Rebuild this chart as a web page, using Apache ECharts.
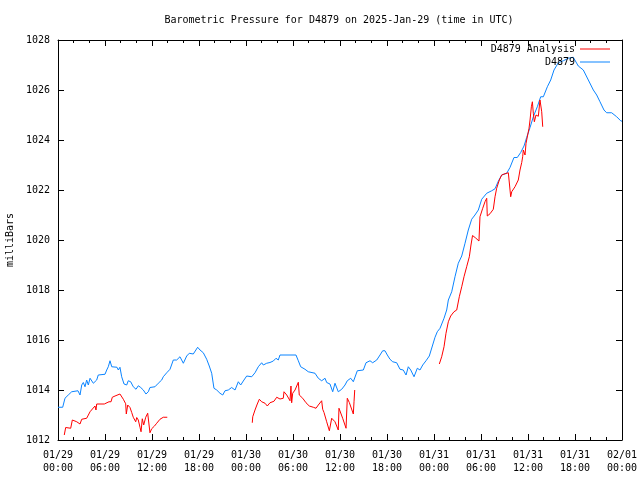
<!DOCTYPE html>
<html>
<head>
<meta charset="utf-8">
<script src="https://cdn.jsdelivr.net/npm/echarts@6/dist/echarts.min.js"></script>
<style>html,body{margin:0;padding:0;background:#fff}#c{width:640px;height:480px}</style>
</head>
<body>
<div id="c"></div>
<script>
// hours since 2025-01-29 00:00 UTC
var stationHours = [0.0,0.6,0.89,1.31,1.75,1.91,2.55,2.81,3.03,3.23,3.45,3.66,3.87,4.09,4.3,4.51,4.72,4.94,5.14,5.36,6.0,6.22,6.42,6.64,6.86,7.02,7.53,7.7,7.91,8.13,8.43,8.77,8.97,9.28,9.61,9.96,10.25,10.56,10.89,11.23,11.53,11.74,12.38,12.8,13.24,13.44,13.88,14.3,14.72,15.15,15.57,16.0,16.43,16.76,17.27,17.83,18.13,18.55,18.98,19.31,19.62,19.91,20.26,20.68,21.03,21.32,21.74,22.17,22.6,23.02,23.32,23.74,24.09,24.73,25.15,25.57,26.0,26.21,26.64,27.06,27.49,27.83,28.12,28.34,30.38,30.68,30.98,31.53,31.95,32.81,33.23,33.66,34.09,34.3,34.72,35.07,35.36,35.78,36.22,36.64,36.93,37.37,37.7,37.91,38.21,38.98,39.32,39.83,40.17,40.69,41.11,41.45,41.74,42.04,42.38,42.73,43.24,43.66,44.08,44.43,44.72,45.03,45.45,45.87,46.21,46.56,46.98,47.4,47.83,48.13,48.42,48.77,49.02,49.28,49.62,49.83,50.26,50.68,51.1,51.54,51.96,52.38,52.81,53.23,53.66,54.09,54.73,55.37,55.79,56.21,56.64,57.28,57.7,58.21,58.63,59.07,59.49,59.83,60.26,60.68,61.19,61.62,61.96,62.47,62.9,63.32,63.87,64.51,65.15,65.78,66.42,67.06,67.7,68.34,68.77,69.19,69.7,70.04,70.68,71.32,71.83,72.0];
var stationValues = [1013.31,1013.31,1013.67,1013.8,1013.93,1013.97,1013.97,1013.8,1014.2,1014.3,1014.13,1014.4,1014.2,1014.47,1014.53,1014.27,1014.33,1014.4,1014.6,1014.63,1014.63,1014.8,1014.93,1015.17,1014.93,1014.91,1014.91,1014.8,1014.91,1014.53,1014.24,1014.2,1014.37,1014.33,1014.13,1014.03,1014.17,1014.1,1014.0,1013.84,1013.93,1014.1,1014.13,1014.27,1014.4,1014.53,1014.69,1014.83,1015.2,1015.2,1015.33,1015.07,1015.36,1015.47,1015.44,1015.71,1015.6,1015.49,1015.23,1014.96,1014.67,1014.07,1014.0,1013.87,1013.8,1013.97,1014.0,1014.1,1014.0,1014.33,1014.2,1014.4,1014.56,1014.53,1014.69,1014.93,1015.09,1015.0,1015.07,1015.1,1015.16,1015.27,1015.2,1015.4,1015.4,1015.17,1014.93,1014.83,1014.73,1014.67,1014.47,1014.37,1014.47,1014.3,1014.24,1013.93,1014.27,1013.93,1014.03,1014.2,1014.37,1014.47,1014.33,1014.4,1014.77,1014.8,1015.09,1015.17,1015.09,1015.2,1015.4,1015.57,1015.57,1015.4,1015.23,1015.13,1015.09,1014.83,1014.8,1014.6,1014.93,1014.8,1014.53,1014.87,1014.8,1015.0,1015.17,1015.36,1015.8,1016.11,1016.33,1016.47,1016.4,1016.87,1017.2,1017.6,1017.93,1018.53,1019.07,1019.36,1019.87,1020.4,1020.83,1021.0,1021.2,1021.63,1021.87,1021.97,1022.05,1022.35,1022.6,1022.67,1022.9,1023.3,1023.3,1023.5,1023.76,1024.1,1024.5,1024.93,1025.33,1025.73,1025.73,1026.13,1026.4,1026.8,1027.09,1027.17,1027.27,1027.31,1026.96,1026.8,1026.4,1026.0,1025.8,1025.53,1025.2,1025.09,1025.09,1024.93,1024.77,1024.75];

// null marks a gap between analysis segments
var analysisHours = [0.8,0.98,1.62,1.83,2.39,2.81,3.03,3.66,3.87,4.09,4.3,4.72,4.85,4.94,5.91,6.51,6.77,6.93,7.28,7.91,8.34,8.64,8.72,8.9,9.19,9.41,9.61,9.92,10.05,10.25,10.47,10.6,10.76,10.94,11.2,11.45,11.74,11.96,12.29,12.6,13.02,13.44,13.95,
  19.0,
  24.8,24.86,25.15,25.44,25.7,26.0,26.43,26.72,27.06,27.57,27.92,28.34,28.76,28.85,29.2,29.62,29.74,29.83,29.96,30.26,30.68,30.8,31.24,31.66,32.08,32.59,32.94,33.23,33.66,33.79,33.96,34.3,34.64,34.85,34.94,35.36,35.78,35.87,36.09,36.34,36.77,36.93,37.19,37.7,37.79,37.88,
  43.0,
  48.68,48.98,49.28,49.53,49.83,50.13,50.55,50.9,51.23,51.54,51.83,52.17,52.51,52.72,52.92,53.32,53.74,53.87,54.22,54.51,54.73,54.8,55.15,55.57,55.79,56.0,56.34,56.64,57.06,57.49,57.7,57.79,57.92,58.34,58.76,58.98,59.2,59.32,59.4,59.62,59.75,59.96,60.13,60.26,60.43,60.56,60.68,60.81,61.02,61.32,61.53,61.66,61.75,61.88];
var analysisValues = [1012.2,1012.5,1012.47,1012.8,1012.73,1012.64,1012.83,1012.87,1012.9,1013.13,1013.2,1013.36,1013.2,1013.44,1013.44,1013.53,1013.53,1013.71,1013.76,1013.84,1013.63,1013.45,1013.04,1013.4,1013.3,1013.1,1012.91,1012.73,1012.9,1012.8,1012.51,1012.33,1012.85,1012.6,1012.91,1013.07,1012.29,1012.45,1012.55,1012.67,1012.83,1012.91,1012.91,
  null,
  1012.69,1012.93,1013.2,1013.44,1013.63,1013.53,1013.47,1013.36,1013.49,1013.55,1013.71,1013.64,1013.67,1013.93,1013.8,1013.57,1014.16,1013.49,1013.87,1014.0,1014.31,1013.8,1013.67,1013.49,1013.36,1013.31,1013.27,1013.4,1013.57,1013.23,1013.1,1012.73,1012.37,1012.36,1012.87,1012.73,1012.4,1013.27,1013.2,1012.87,1012.47,1013.67,1013.5,1013.04,1013.53,1014.0,
  null,
  1015.04,1015.33,1015.73,1016.27,1016.73,1016.96,1017.13,1017.2,1017.73,1018.13,1018.53,1018.93,1019.33,1019.8,1020.18,1020.08,1019.96,1020.93,1021.27,1021.53,1021.67,1020.96,1021.05,1021.23,1021.73,1022.07,1022.4,1022.6,1022.65,1022.69,1022.77,1021.73,1021.93,1022.13,1022.4,1022.8,1023.1,1023.33,1023.6,1023.4,1023.87,1024.2,1024.47,1024.8,1025.33,1025.53,1025.07,1024.73,1025.0,1024.95,1025.6,1025.6,1025.13,1024.53];

var xTickLabels = ['01/29\n00:00','01/29\n06:00','01/29\n12:00','01/29\n18:00','01/30\n00:00','01/30\n06:00','01/30\n12:00','01/30\n18:00','01/31\n00:00','01/31\n06:00','01/31\n12:00','01/31\n18:00','02/01\n00:00'];
var yTicks = [1012,1014,1016,1018,1020,1022,1024,1026,1028];

function pairs(xs, ys) {
  return xs.map(function (x, i) { return ys[i] === null ? [x, '-'] : [x, ys[i]]; });
}

var FONT = 'DejaVu Sans Mono';
var chart = echarts.init(document.getElementById('c'), null, {renderer: 'canvas'});
var xBase = {
  type: 'value', min: 0, max: 72, interval: 6,
  splitLine: {show: false},
  axisLine: {show: true, onZero: false, lineStyle: {color: '#000', width: 1}},
  axisTick: {show: true, inside: true, length: 6, lineStyle: {color: '#000'}},
  minorTick: {show: true, splitNumber: 3, length: 3, lineStyle: {color: '#000'}}
};
var yBase = {
  type: 'value', min: yTicks[0], max: yTicks[yTicks.length - 1], interval: 2,
  splitLine: {show: false},
  axisLine: {show: true, onZero: false, lineStyle: {color: '#000', width: 1}},
  axisTick: {show: true, inside: true, length: 6, lineStyle: {color: '#000'}}
};
chart.setOption({
  animation: false,
  backgroundColor: '#fff',
  textStyle: {fontFamily: FONT},
  title: {
    text: 'Barometric Pressure for D4879 on 2025-Jan-29 (time in UTC)',
    left: 339, top: 15, textAlign: 'center', padding: 0,
    textStyle: {fontFamily: FONT, fontSize: 10, fontWeight: 'normal', color: '#000'}
  },
  legend: [
    {data: ['D4879 Analysis'], right: 30, top: 44, padding: 0, align: 'right', icon: 'rect', itemWidth: 30, itemHeight: 1,
     textStyle: {fontFamily: FONT, fontSize: 10, color: '#000'}},
    {data: ['D4879'], right: 30, top: 57, padding: 0, align: 'right', icon: 'rect', itemWidth: 30, itemHeight: 1,
     textStyle: {fontFamily: FONT, fontSize: 10, color: '#000'}}
  ],
  grid: {left: 58, right: 18, top: 40, bottom: 40, containLabel: false, outerBoundsMode: 'none'},
  xAxis: [
    Object.assign({}, xBase, {
      position: 'bottom',
      axisLabel: {
        show: true, margin: 9, fontFamily: FONT, fontSize: 10, color: '#000', lineHeight: 13,
        formatter: function (v) { return xTickLabels[Math.round(v / 6)]; }
      }
    }),
    Object.assign({}, xBase, {position: 'top', axisLabel: {show: false}})
  ],
  yAxis: [
    Object.assign({}, yBase, {
      position: 'left',
      name: 'milliBars', nameLocation: 'middle', nameRotate: 90, nameGap: 41,
      nameTextStyle: {fontFamily: FONT, fontSize: 10, color: '#000'},
      axisLabel: {show: true, margin: 8, fontFamily: FONT, fontSize: 10, color: '#000',
        formatter: function (v) { return String(v); }}
    }),
    Object.assign({}, yBase, {position: 'right', axisLabel: {show: false}})
  ],
  series: [
    {
      name: 'D4879 Analysis', type: 'line', xAxisIndex: 0, yAxisIndex: 0,
      data: pairs(analysisHours, analysisValues),
      showSymbol: false, symbol: 'none', connectNulls: false,
      lineStyle: {color: '#ff0000', width: 1}, itemStyle: {color: '#ff0000'}, z: 3
    },
    {
      name: 'D4879', type: 'line', xAxisIndex: 0, yAxisIndex: 0,
      data: pairs(stationHours, stationValues),
      showSymbol: false, symbol: 'none',
      lineStyle: {color: '#0a84ff', width: 1}, itemStyle: {color: '#0a84ff'}, z: 2
    }
  ]
});
</script>
</body>
</html>
